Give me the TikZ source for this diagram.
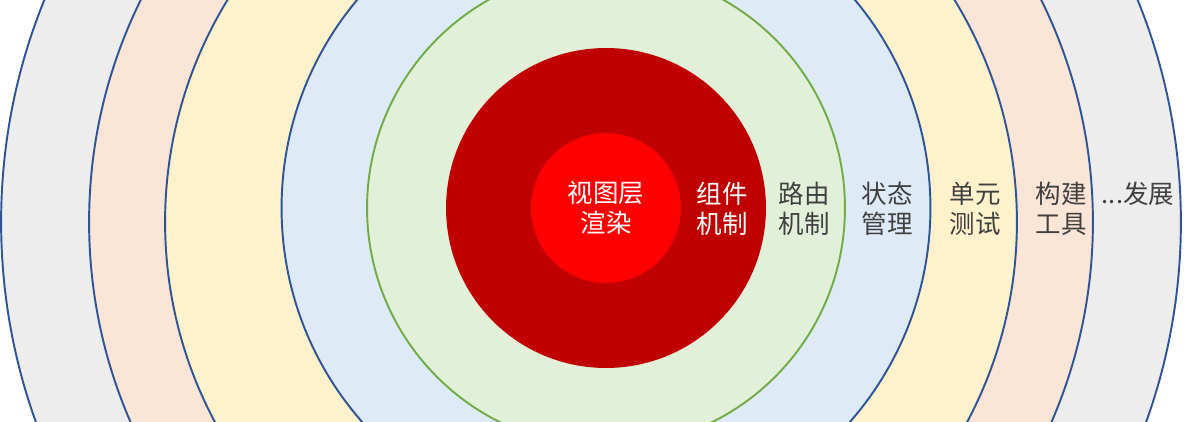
\documentclass[tikz,border=0pt]{standalone}
\usepackage{fontspec}
\newfontfamily\cjk{Noto Sans CJK SC}
\usepackage{xcolor}
\usetikzlibrary{positioning}

\definecolor{ringline}{HTML}{2F5597}
\definecolor{coreline}{HTML}{70AD47}
\definecolor{ringgray}{HTML}{EDEDED}
\definecolor{ringpeach}{HTML}{FBE5D6}
\definecolor{ringyellow}{HTML}{FFF2CC}
\definecolor{ringblue}{HTML}{DEEBF7}
\definecolor{ringgreen}{HTML}{E2F0D9}
\definecolor{darkred}{HTML}{C00000}
\definecolor{labelgray}{HTML}{404040}

\begin{document}
\begin{tikzpicture}[
        x=0.02cm, y=-0.02cm,
        ring/.style={circle, draw=ringline, line width=1.1pt, inner sep=0pt},
        disc/.style={circle, inner sep=0pt},
        lbl/.style={font=\cjk\fontsize{14.5}{17}\selectfont, text=labelgray, align=center},
        wlbl/.style={lbl, text=white},
    ]
        \useasboundingbox (0,0) rectangle (1190,422);
        \clip (0,0) rectangle (1190,422);
        \fill[white] (0,0) rectangle (1190,422);

        % outer rings
        \node[ring, fill=ringgray, minimum size=23.6cm] (more) at (591,222) {};
        \node[ring, fill=ringpeach, minimum size=20.08cm] (build) at (591,222) {};
        \node[ring, fill=ringyellow, minimum size=17.04cm] (test) at (591,222) {};
        \node[ring, fill=ringblue, minimum size=12.98cm] (state) at (606,208) {};
        \node[ring, draw=coreline, fill=ringgreen, minimum size=9.56cm] (router) at (606,208) {};

        % core
        \node[disc, fill=darkred, minimum size=6.4cm] (comp) at (606,208) {};
        \node[disc, fill=red, minimum size=3cm] (view) at (606,208) {};

        \node[wlbl] (viewtxt) at (view) {视图层\\渲染};
        \node[wlbl] (comptxt) at (722,208.5) {组件\\机制};
        \node[lbl] (routertxt) at (804,208.5) {路由\\机制};
        \node[lbl] (statetxt) at (887,208.5) {状态\\管理};
        \node[lbl] (testtxt) at (975,208.5) {单元\\测试};
        \node[lbl] (buildtxt) at (1061,208.5) {构建\\工具};
        \node[lbl] (moretxt) at (1138,193.5) {...发展};
    \end{tikzpicture}
\end{document}
